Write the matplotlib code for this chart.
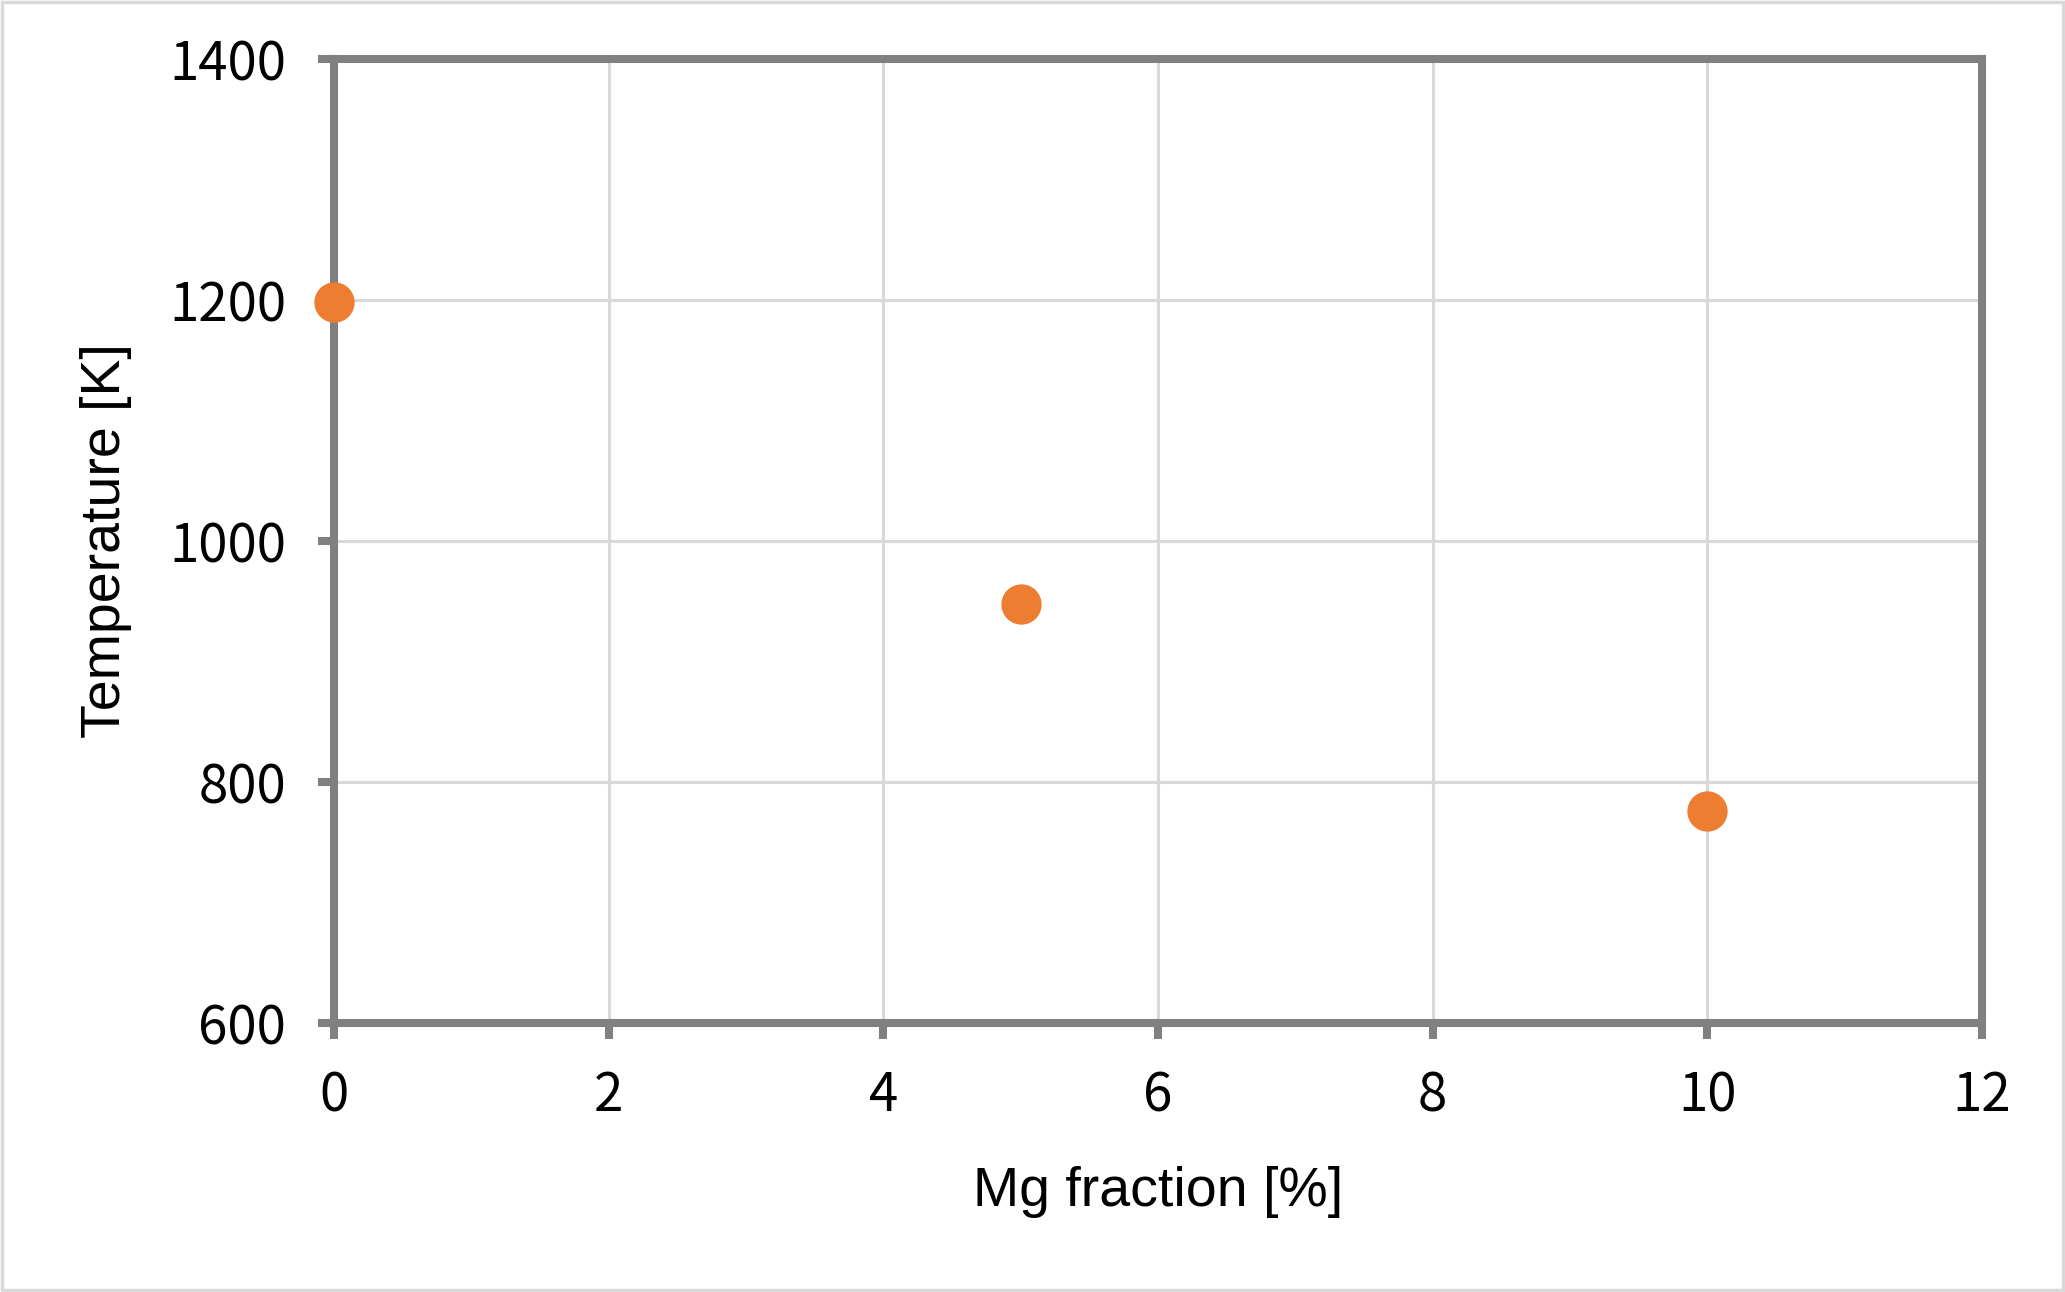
import matplotlib
matplotlib.use("Agg")
import matplotlib.pyplot as plt
from matplotlib.patches import Rectangle

# data
mg_fraction = [0, 5, 10]
temperature = [1198, 948, 776]

x_ticks = [0, 2, 4, 6, 8, 10, 12]
y_ticks = [600, 800, 1000, 1200, 1400]

spine_gray = "#808080"
grid_gray = "#d9d9d9"
orange = "#ED7D31"

fig = plt.figure(figsize=(20.65, 12.92), dpi=100)
ax = fig.add_axes([334 / 2065, 1 - 1023 / 1292, (1982 - 334) / 2065, (1023 - 59) / 1292])

ax.set_xlim(0, 12)
ax.set_ylim(600, 1400)
ax.set_xticks(x_ticks)
ax.set_yticks(y_ticks)
ax.set_xticklabels([str(v) for v in x_ticks], family=["Noto Sans CJK JP", "DejaVu Sans"],
                   fontsize=38)
ax.set_yticklabels([str(v) for v in y_ticks], family=["Noto Sans CJK JP", "DejaVu Sans"],
                   fontsize=38)

ax.grid(True, color=grid_gray, linewidth=2.2, zorder=0)
ax.set_axisbelow(True)

for s in ax.spines.values():
    s.set_color(spine_gray)
    s.set_linewidth(5.8)
    s.set_zorder(2)

ax.tick_params(axis="both", direction="out", length=11.5, width=5.8, color=spine_gray)
ax.tick_params(axis="x", pad=21)
ax.tick_params(axis="y", pad=23)

ax.plot(mg_fraction, temperature, linestyle="none", marker="o", markersize=28,
        color=orange, clip_on=False, zorder=5)

fig.text(1158 / 2065, 1 - 1206 / 1292, "Mg fraction [%]", family="Liberation Sans",
         fontsize=40, ha="center", va="baseline")
fig.text(106 / 2065, 1 - 541 / 1292, "Temperature [K]", family="Liberation Sans",
         fontsize=40, ha="center", va="center", rotation=90)

# light border around the chart area
fig.patches.append(Rectangle((0.0008, 0.0012), 0.9984, 0.9976, transform=fig.transFigure,
                             fill=False, edgecolor=grid_gray, linewidth=2.5))

fig.savefig("out.png", dpi=100)
